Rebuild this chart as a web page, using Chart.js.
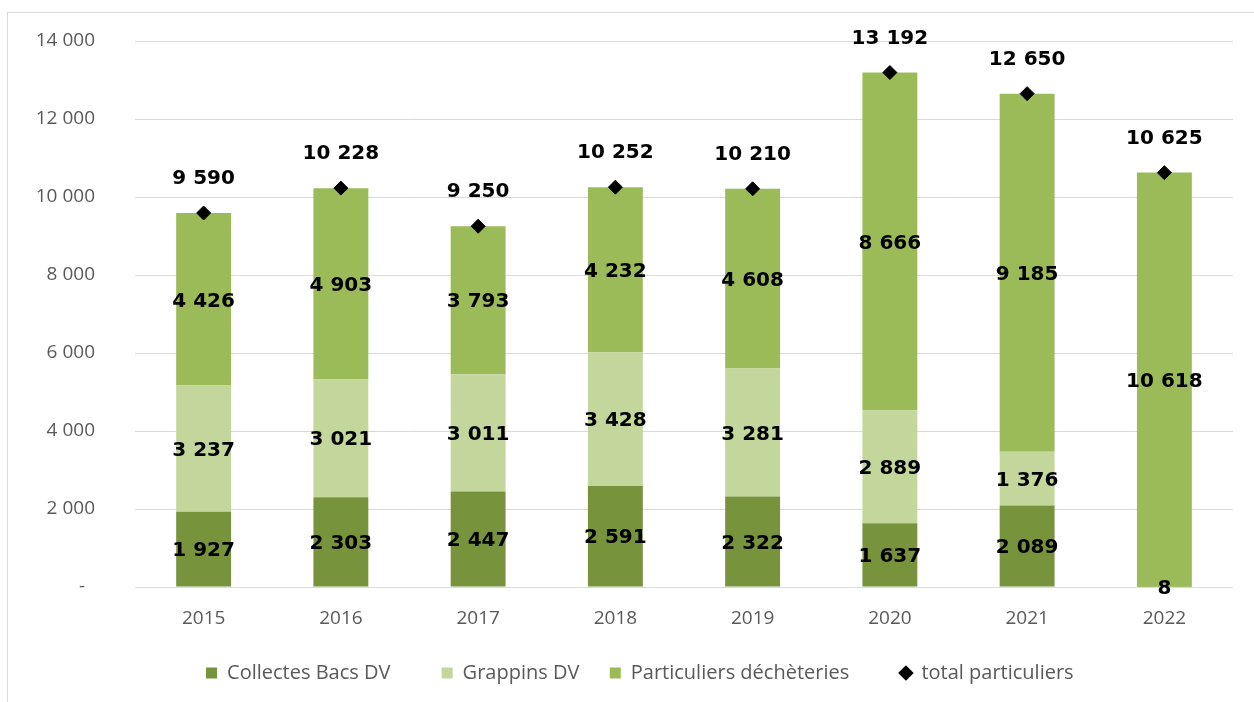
<!DOCTYPE html>
<html>
<head>
<meta charset="utf-8">
<script src="https://cdn.jsdelivr.net/npm/chart.js@4.4.1/dist/chart.umd.min.js"></script>
<style>
  html, body { margin: 0; padding: 0; background: #fff; }
  #frame { position: absolute; left: 7px; top: 12px; width: 1260px; height: 700px; border: 1px solid #d9d9d9; }
  #wrap { position: absolute; left: 0; top: 0; width: 1254px; height: 702px; }
</style>
</head>
<body>
<div id="frame"></div>
<div id="wrap"><canvas id="chart" width="1254" height="702"></canvas></div>
<script>
const years = ['2015', '2016', '2017', '2018', '2019', '2020', '2021', '2022'];
const collectesBacs = [1927, 2303, 2447, 2591, 2322, 1637, 2089, 8];
const grappins = [3237, 3021, 3011, 3428, 3281, 2889, 1376, 0];
const particuliers = [4426, 4903, 3793, 4232, 4608, 8666, 9185, 10618];
const totalParticuliers = [9590, 10228, 9250, 10252, 10210, 13192, 12650, 10625];
const yTicks = [0, 2000, 4000, 6000, 8000, 10000, 12000, 14000];

function fmt(v) {
    return String(v).replace(/\B(?=(\d{3})+(?!\d))/g, ' ');
}

// étiquettes de valeurs (segments + totaux)
const valueLabels = {
    id: 'valueLabels',
    afterDatasetsDraw(chart) {
        const ctx = chart.ctx;
        ctx.save();
        ctx.font = 'bold 20px "DejaVu Sans"';
        ctx.fillStyle = '#000';
        ctx.textAlign = 'center';
        ctx.textBaseline = 'middle';
        chart.data.datasets.forEach((ds, i) => {
            const meta = chart.getDatasetMeta(i);
            meta.data.forEach((el, j) => {
                const v = ds.data[j];
                if (!v) return;
                if (ds.type === 'line') {
                    ctx.fillText(fmt(v), el.x, el.y - 34);
                } else {
                    ctx.fillText(fmt(v), el.x, (el.y + el.base) / 2 + 2);
                }
            });
        });
        ctx.restore();
    }
};

// espaces après chaque libellé de légende
const legendGaps = [6, 2, 6, 17];

new Chart(document.getElementById('chart'), {
    data: {
        labels: years,
        datasets: [
            {
                type: 'bar',
                label: 'Collectes Bacs DV',
                data: collectesBacs,
                backgroundColor: '#77933c',
                order: 1
            },
            {
                type: 'bar',
                label: 'Grappins DV',
                data: grappins,
                backgroundColor: '#c3d69b',
                order: 1
            },
            {
                type: 'bar',
                label: 'Particuliers déchèteries',
                data: particuliers,
                backgroundColor: '#9bbb59',
                order: 1
            },
            {
                type: 'line',
                label: 'total particuliers',
                data: totalParticuliers,
                showLine: false,
                pointStyle: 'rectRot',
                pointRadius: 7,
                pointBackgroundColor: '#000',
                pointBorderColor: '#000',
                backgroundColor: '#000',
                borderColor: '#000',
                order: 0
            }
        ]
    },
    options: {
        responsive: false,
        animation: false,
        events: [],
        datasets: {
            bar: { categoryPercentage: 1, barPercentage: 0.4, borderWidth: 0 }
        },
        layout: { autoPadding: false, padding: { top: 41, right: 21, left: 0, bottom: 9 } },
        plugins: {
            tooltip: { enabled: false },
            legend: {
                position: 'bottom',
                fullSize: false,
                labels: {
                    usePointStyle: true,
                    boxWidth: 11,
                    boxHeight: 11,
                    padding: 20,
                    color: '#595959',
                    font: { family: '"Open Sans"', size: 20 },
                    sort: (a, b) => a.datasetIndex - b.datasetIndex,
                    generateLabels(chart) {
                        const items = Chart.defaults.plugins.legend.labels.generateLabels(chart);
                        items.forEach(it => {
                            it.pointStyle = it.datasetIndex === 3 ? 'rectRot' : 'rect';
                            it.lineWidth = 0;
                            it.text = it.text + ' '.repeat(legendGaps[it.datasetIndex]);
                        });
                        return items;
                    }
                }
            }
        },
        scales: {
            x: {
                stacked: true,
                grid: { display: false },
                border: { display: false },
                ticks: {
                    color: '#595959',
                    padding: 12,
                    font: { family: '"Open Sans"', size: 19 }
                },
                afterFit(scale) { scale.height = 56; }
            },
            y: {
                stacked: true,
                min: 0,
                max: 14000,
                afterBuildTicks(scale) { scale.ticks = yTicks.map(v => ({ value: v })); },
                grid: { color: '#d9d9d9', drawTicks: false },
                border: { display: false },
                ticks: {
                    color: '#595959',
                    padding: 40,
                    font: { family: '"Open Sans"', size: 19 },
                    callback: v => v === 0 ? '-  ' : fmt(v)
                },
                afterFit(scale) {
                    scale.width = 135;
                    scale.paddingTop = 0;
                    scale.paddingBottom = 0;
                }
            }
        }
    },
    plugins: [valueLabels]
});
</script>
</body>
</html>
